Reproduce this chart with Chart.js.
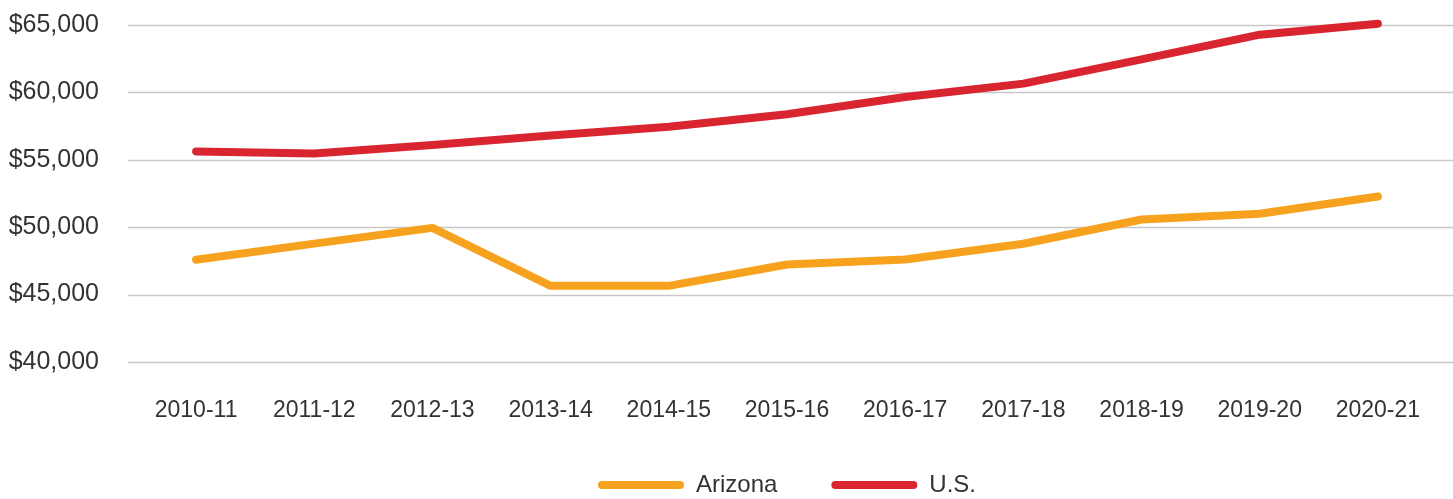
<!DOCTYPE html>
<html>
<head>
<meta charset="utf-8">
<script src="https://cdn.jsdelivr.net/npm/chart.js@4.4.1/dist/chart.umd.min.js"></script>
<style>
  html, body { margin: 0; padding: 0; background: #fff; overflow: hidden; }
  #wrap { position: relative; width: 1453px; height: 507px; }
</style>
</head>
<body>
<div id="wrap"><canvas id="salarios"></canvas></div>
<script>
// datos
const years = ['2010-11', '2011-12', '2012-13', '2013-14', '2014-15', '2015-16',
               '2016-17', '2017-18', '2018-19', '2019-20', '2020-21'];
const arizona = [47580, 48780, 49950, 45650, 45650, 47230, 47600, 48770, 50570, 51000, 52280];
const us = [55620, 55470, 56100, 56800, 57450, 58380, 59660, 60650, 62450, 64280, 65100];
const yTicks = [40000, 45000, 50000, 55000, 60000, 65000];

const fontFam = "'Liberation Sans', 'Noto Sans', sans-serif";
const textColor = '#333333';

// lineas de la rejilla a todo lo ancho
const gridFull = {
  id: 'gridFull',
  beforeDatasetsDraw(chart) {
    const ctx = chart.ctx;
    const y = chart.scales.y;
    ctx.save();
    ctx.strokeStyle = '#c8c8c8';
    ctx.lineWidth = 1.5;
    yTicks.forEach(function (v) {
      const py = Math.round(y.getPixelForValue(v)) + 0.5;
      ctx.beginPath();
      ctx.moveTo(128, py);
      ctx.lineTo(chart.width, py);
      ctx.stroke();
    });
    ctx.restore();
  }
};

const ctxSal = document.getElementById('salarios');

new Chart(ctxSal, {
  type: 'line',
  data: {
    labels: years,
    datasets: [{
      label: 'Arizona',
      data: arizona,
      borderColor: '#F7A21E',
      backgroundColor: '#F7A21E',
      borderWidth: 8,
      borderCapStyle: 'round',
      borderJoinStyle: 'round',
      pointRadius: 0,
      clip: false,
      tension: 0
    }, {
      label: 'U.S.',
      data: us,
      borderColor: '#D9252F',
      backgroundColor: '#D9252F',
      borderWidth: 8,
      borderCapStyle: 'round',
      borderJoinStyle: 'round',
      pointRadius: 0,
      clip: false,
      tension: 0
    }]
  },
  options: {
    responsive: true,
    maintainAspectRatio: false,
    animation: false,
    layout: { padding: { top: 25, right: 16, left: 0, bottom: 0 } },
    plugins: {
      tooltip: { enabled: false },
      legend: {
        position: 'bottom',
        fullSize: false,
        labels: {
          boxWidth: 86,
          boxHeight: 8,
          padding: 54,
          color: textColor,
          font: { family: fontFam, size: 24 },
          generateLabels(chart) {
            return chart.data.datasets.map(function (ds, i) {
              return {
                text: ds.label,
                fillStyle: ds.borderColor,
                strokeStyle: ds.borderColor,
                lineWidth: 0,
                borderRadius: 4,
                fontColor: textColor,
                datasetIndex: i
              };
            });
          },
          useBorderRadius: true,
          borderRadius: 4
        }
      }
    },
    scales: {
      x: {
        offset: true,
        grid: { display: false, tickLength: 8 },
        border: { display: false },
        afterFit(scale) { scale.height = 57; },
        ticks: {
          color: textColor,
          padding: 27,
          maxRotation: 0,
          font: { family: fontFam, size: 23 }
        }
      },
      y: {
        min: 40000,
        max: 65000,
        grid: { display: false, tickLength: 34 },
        border: { display: false },
        afterFit(scale) { scale.width = 137; },
        ticks: {
          stepSize: 5000,
          color: textColor,
          padding: 4,
          font: { family: fontFam, size: 25 },
          callback: function (v) { return '$' + v.toLocaleString('en-US'); }
        }
      }
    }
  },
  plugins: [gridFull]
});
</script>
</body>
</html>
